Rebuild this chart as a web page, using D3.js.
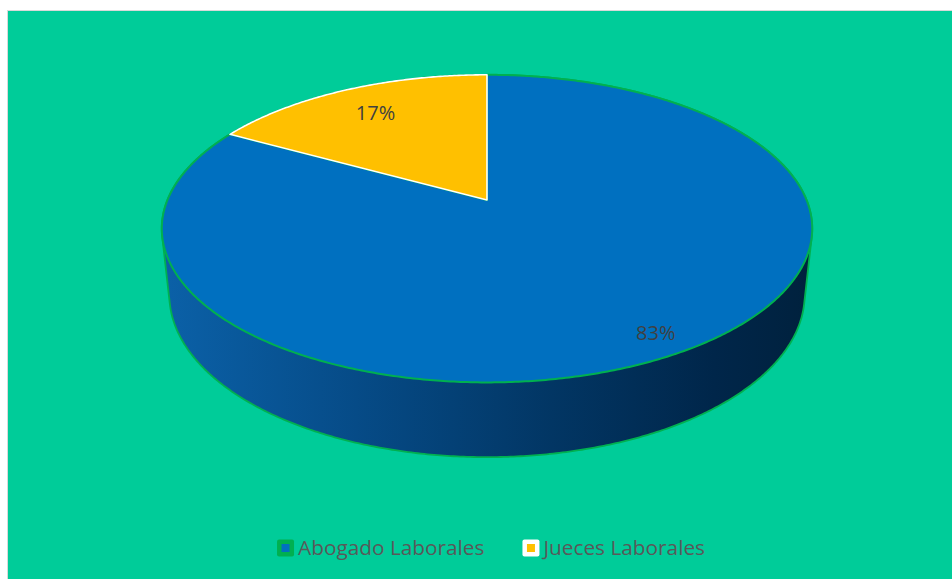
<!DOCTYPE html>
<html>
<head>
<meta charset="utf-8">
<script src="https://cdn.jsdelivr.net/npm/d3@7"></script>
<style>
  html, body { margin: 0; padding: 0; background: #ffffff; }
  svg { display: block; }
</style>
</head>
<body>
<svg id="chart" width="952" height="579"></svg>
<script>
// ---- data ----
const categories = ["Abogado Laborales", "Jueces Laborales"];
const values = [83, 17];
const valueLabels = ["83%", "17%"];
const sliceColors = ["#0070C0", "#FFC000"];
const sliceOutlines = ["#00B050", "#FFFFFF"];

// ---- layout / projection ----
const W = 952, H = 579;
const svg = d3.select("#chart");
const cx = 487, cy = 200;      // projected disc centre
const f = 1522, Dist = 4.763;  // focal length & camera distance (disc radius = 1)
const tilt = Math.asin(0.4647);
const sn = Math.sin(tilt), cs = Math.cos(tilt);
const thick = 0.236;

function proj(X, Z, Y) {
  const yc = Z * sn + Y * cs;
  const zc = Dist + Z * cs - Y * sn;
  return [cx + f * X / zc, cy - f * yc / zc];
}
// angle: clockwise from 12 o'clock
function rim(a, r, Y) { return proj(r * Math.sin(a), r * Math.cos(a), Y); }

// background
svg.append("rect").attr("x", 7.5).attr("y", 10.5).attr("width", W).attr("height", H)
  .attr("fill", "#00CC99").attr("stroke", "#D9D9D9").attr("stroke-width", 1);

const defs = svg.append("defs");
const grad = defs.append("linearGradient").attr("id", "sideGrad")
  .attr("gradientUnits", "userSpaceOnUse")
  .attr("x1", 162).attr("x2", 812).attr("y1", 0).attr("y2", 0);
[[0, "#0b61a8"], [0.3, "#064b87"], [0.6, "#023664"], [0.85, "#00264a"], [1, "#00213d"]]
  .forEach(([o, c]) => grad.append("stop").attr("offset", o).attr("stop-color", c));

const color = d3.scaleOrdinal().domain(categories).range(sliceColors);
const outline = d3.scaleOrdinal().domain(categories).range(sliceOutlines);

const pie = d3.pie().sort(null).startAngle(0).endAngle(2 * Math.PI);
const arcs = pie(values);
const line = d3.line().curve(d3.curveLinearClosed);

// side wall (silhouette of the cylinder = hull of both rims)
const N = 720;
const rimPts = [];
for (let i = 0; i < N; i++) {
  const a = (i / N) * 2 * Math.PI;
  rimPts.push(rim(a, 1, 0));
  rimPts.push(rim(a, 1, -thick));
}
const hull = d3.polygonHull(rimPts);
svg.append("path").attr("d", line(hull))
  .attr("fill", "url(#sideGrad)")
  .attr("stroke", "#00B050").attr("stroke-width", 1.8).attr("stroke-linejoin", "round");

// top faces
const tops = svg.append("g");
arcs.forEach((d, i) => {
  const pts = [proj(0, 0, 0)];
  const steps = Math.max(8, Math.ceil((d.endAngle - d.startAngle) / (Math.PI / 360)));
  for (let k = 0; k <= steps; k++) {
    const a = d.startAngle + (d.endAngle - d.startAngle) * k / steps;
    pts.push(rim(a, 1, 0));
  }
  tops.append("path").attr("d", line(pts))
    .attr("fill", color(categories[i]))
    .attr("stroke", outline(categories[i]))
    .attr("stroke-width", i === 0 ? 2 : 1.6).attr("stroke-linejoin", "round");
});

// data labels
const labelR = arcs.map(d => (d.endAngle - d.startAngle) > Math.PI ? 0.89 : 0.77);
arcs.forEach((d, i) => {
  const mid = (d.startAngle + d.endAngle) / 2;
  const p = rim(mid, labelR[i], 0);
  svg.append("text").attr("x", p[0]).attr("y", p[1])
    .attr("text-anchor", "middle").attr("dominant-baseline", "central")
    .attr("font-family", "'Open Sans', sans-serif").attr("font-size", 20)
    .attr("fill", "#404040").text(valueLabels[i]);
});

// legend
const legend = svg.append("g");
const items = categories.map((c, i) => {
  const g = legend.append("g");
  g.append("rect").attr("x", 0).attr("y", -8.5).attr("width", 17).attr("height", 17)
    .attr("rx", 2).attr("fill", outline(c));
  g.append("rect").attr("x", 4.5).attr("y", -4).attr("width", 8).attr("height", 8)
    .attr("fill", color(c));
  const t = g.append("text").attr("x", 21).attr("y", 0).attr("dy", "0.35em")
    .attr("font-family", "'Open Sans', sans-serif").attr("font-size", 20.8)
    .attr("fill", "#595959").text(c);
  return { g, w: 21 + t.node().getComputedTextLength() };
});
const gap = 38;
const total = d3.sum(items, d => d.w) + gap * (items.length - 1);
let x0 = 491 - total / 2;
items.forEach(it => {
  it.g.attr("transform", `translate(${x0},548)`);
  x0 += it.w + gap;
});
</script>
</body>
</html>
